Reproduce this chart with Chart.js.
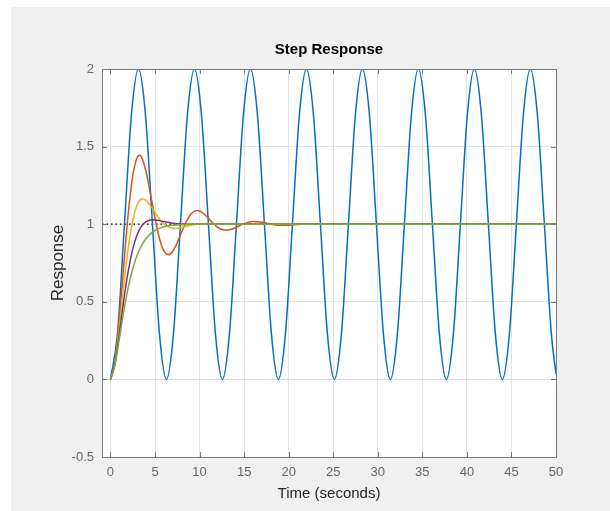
<!DOCTYPE html>
<html>
<head>
<meta charset="utf-8">
<script src="https://cdn.jsdelivr.net/npm/chart.js@4/dist/chart.umd.min.js"></script>
<style>
  html, body { margin: 0; padding: 0; background: #fff; }
  canvas { display: block; }
</style>
</head>
<body>
<canvas id="stepChart" width="610" height="511"></canvas>
<script>
// zeta = 0 (undamped)
const tUndamped = [0,0.785,1.571,2.356,3.142,3.927,4.712,5.498,6.283,7.069,7.854,8.639,9.425,10.21,10.996,11.781,12.566,13.352,14.137,14.923,15.708,16.493,17.279,18.064,18.85,19.635,20.42,21.206,21.991,22.777,23.562,24.347,25.133,25.918,26.704,27.489,28.274,29.06,29.845,30.631,31.416,32.201,32.987,33.772,34.558,35.343,36.128,36.914,37.699,38.485,39.27,40.055,40.841,41.626,42.412,43.197,43.982,44.768,45.553,46.339,47.124,47.909,48.695,49.48,50];
const yUndamped = [0,0.293,1,1.707,2,1.707,1,0.293, 0,0.293,1,1.707,2,1.707,1,0.293, 0,0.293,1,1.707,2,1.707,1,0.293, 0,0.293,1,1.707,2,1.707,1,0.293, 0,0.293,1,1.707,2,1.707,1,0.293, 0,0.293,1,1.707,2,1.707,1,0.293, 0,0.293,1,1.707,2,1.707,1,0.293, 0,0.293,1,1.707,2,1.707,1,0.293, 0.035];

// zeta = 0.25
const tZ25 = [0,0.5,1,1.5,2,2.5,3,3.25,3.5,4,4.5,5,5.5,6,6.5,7,7.5,8,8.5,9,9.5,9.75,10,10.5,11,11.5,12,12.5,13,13.5,14,15,16,17,18,19,20,21,22,23,24,50];
const yZ25 = [0,0.113,0.392,0.743,1.071,1.311,1.431,1.444,1.431,1.337,1.192,1.037,0.908,0.828,0.803,0.826,0.881,0.951,1.016,1.063,1.086,1.088,1.085,1.066,1.037,1.007,0.981,0.966,0.961,0.966,0.977,1.003,1.017,1.013,1.001,0.993,0.993,0.998,1.003,1.003,1.001,1];

// zeta = 0.5
const tZ50 = [0,0.5,1,1.5,2,2.5,3,3.5,3.63,4,4.5,5,5.5,6,6.5,7,7.25,7.5,8,9,10,11,12,14,50];
const yZ50 = [0,0.104,0.34,0.611,0.849,1.024,1.125,1.162,1.163,1.153,1.118,1.075,1.034,1.002,0.983,0.974,0.973,0.974,0.979,0.993,1.002,1.004,1.003,1,1];

// zeta = 0.75
const tZ75 = [0,0.5,1,1.5,2,2.5,3,3.5,4,4.5,4.75,5,5.5,6,7,8,9,10,50];
const yZ75 = [0,0.097,0.298,0.514,0.7,0.839,0.933,0.989,1.017,1.0274,1.0284,1.0276,1.023,1.017,1.006,1.001,0.999,1,1];

// zeta = 1
const tZ100 = [0,0.5,1,1.5,2,2.5,3,3.5,4,4.5,5,6,7,8,9,10,12,50];
const yZ100 = [0,0.09,0.264,0.442,0.594,0.713,0.801,0.864,0.908,0.939,0.96,0.983,0.993,0.997,0.999,0.9995,1,1];

// steady state reference
const tRef = [-0.95, 50];
const yRef = [1, 1];

const xTicks = [0,5,10,15,20,25,30,35,40,45,50];
const yTicks = [-0.5,0,0.5,1,1.5,2];

const FONT = '"Liberation Sans", Arial, Helvetica, sans-serif';

function pts(ts, ys) {
  return ts.map((t, i) => ({ x: t, y: ys[i] }));
}

function line(ts, ys, color) {
  return {
    data: pts(ts, ys),
    borderColor: color,
    borderWidth: 1.5,
    pointRadius: 0,
    fill: false,
    cubicInterpolationMode: 'monotone'
  };
}

// backgrounds, box, inward ticks and texts
const decor = {
  id: 'decor',
  beforeDraw(chart) {
    const c = chart.ctx, a = chart.chartArea;
    c.save();
    c.fillStyle = '#ffffff';
    c.fillRect(0, 0, chart.width, chart.height);
    c.fillStyle = '#f0f0f0';
    c.fillRect(11, 7, chart.width - 11, chart.height - 7);
    c.fillStyle = '#ffffff';
    c.fillRect(a.left, a.top, a.right - a.left, a.bottom - a.top);
    c.restore();
  },
  afterDraw(chart) {
    const c = chart.ctx, a = chart.chartArea;
    const xs = chart.scales.x, ys = chart.scales.y;
    c.save();
    c.strokeStyle = '#7a7a7a';
    c.lineWidth = 1;
    c.beginPath();
    xTicks.forEach(v => {
      const px = Math.round(xs.getPixelForValue(v)) + 0.5;
      c.moveTo(px, a.bottom); c.lineTo(px, a.bottom - 5);
      c.moveTo(px, a.top); c.lineTo(px, a.top + 5);
    });
    yTicks.forEach(v => {
      const py = Math.round(ys.getPixelForValue(v)) + 0.5;
      c.moveTo(a.left, py); c.lineTo(a.left + 5, py);
      c.moveTo(a.right, py); c.lineTo(a.right - 5, py);
    });
    c.stroke();
    c.strokeRect(Math.round(a.left) + 0.5, Math.round(a.top) + 0.5,
      Math.round(a.right - a.left), Math.round(a.bottom - a.top));

    const cx = (a.left + a.right) / 2;
    c.fillStyle = '#000000';
    c.textAlign = 'center';
    c.textBaseline = 'middle';
    c.font = 'bold 15px ' + FONT;
    c.fillText('Step Response', cx, 50);
    c.fillStyle = '#262626';
    c.font = '15px ' + FONT;
    c.fillText('Time (seconds)', cx, 494);
    c.translate(58, 263);
    c.rotate(-Math.PI / 2);
    c.font = '17px ' + FONT;
    c.fillText('Response', 0, 0);
    c.restore();
  }
};

new Chart(document.getElementById('stepChart'), {
  type: 'line',
  data: {
    datasets: [
      line(tZ100, yZ100, '#77AC30'),
      line(tZ75, yZ75, '#7E2F8E'),
      line(tZ50, yZ50, '#EDB120'),
      line(tZ25, yZ25, '#D95319'),
      line(tUndamped, yUndamped, '#0072BD'),
      {
        data: pts(tRef, yRef),
        borderColor: '#000000',
        borderWidth: 1.2,
        borderDash: [1.5, 3],
        pointRadius: 0,
        fill: false
      }
    ]
  },
  options: {
    responsive: false,
    animation: false,
    devicePixelRatio: 1,
    layout: { padding: { top: 69, right: 54, left: 0, bottom: 0 } },
    plugins: { legend: { display: false }, tooltip: { enabled: false } },
    scales: {
      x: {
        type: 'linear',
        min: -0.95,
        max: 50,
        afterFit: s => { s.height = 54; },
        afterBuildTicks: s => { s.ticks = xTicks.map(v => ({ value: v })); },
        grid: { color: '#e3e3e3', drawTicks: false },
        border: { display: false },
        ticks: {
          padding: 8,
          color: '#666666',
          font: { family: FONT, size: 13 },
          maxRotation: 0,
          autoSkip: false,
          callback: v => String(v)
        }
      },
      y: {
        type: 'linear',
        min: -0.5,
        max: 2,
        afterFit: s => { s.width = 102; },
        afterBuildTicks: s => { s.ticks = yTicks.map(v => ({ value: v })); },
        grid: { color: '#e3e3e3', drawTicks: false },
        border: { display: false },
        ticks: {
          padding: 8,
          color: '#666666',
          font: { family: FONT, size: 13 },
          autoSkip: false,
          callback: v => String(v)
        }
      }
    }
  },
  plugins: [decor]
});
</script>
</body>
</html>
